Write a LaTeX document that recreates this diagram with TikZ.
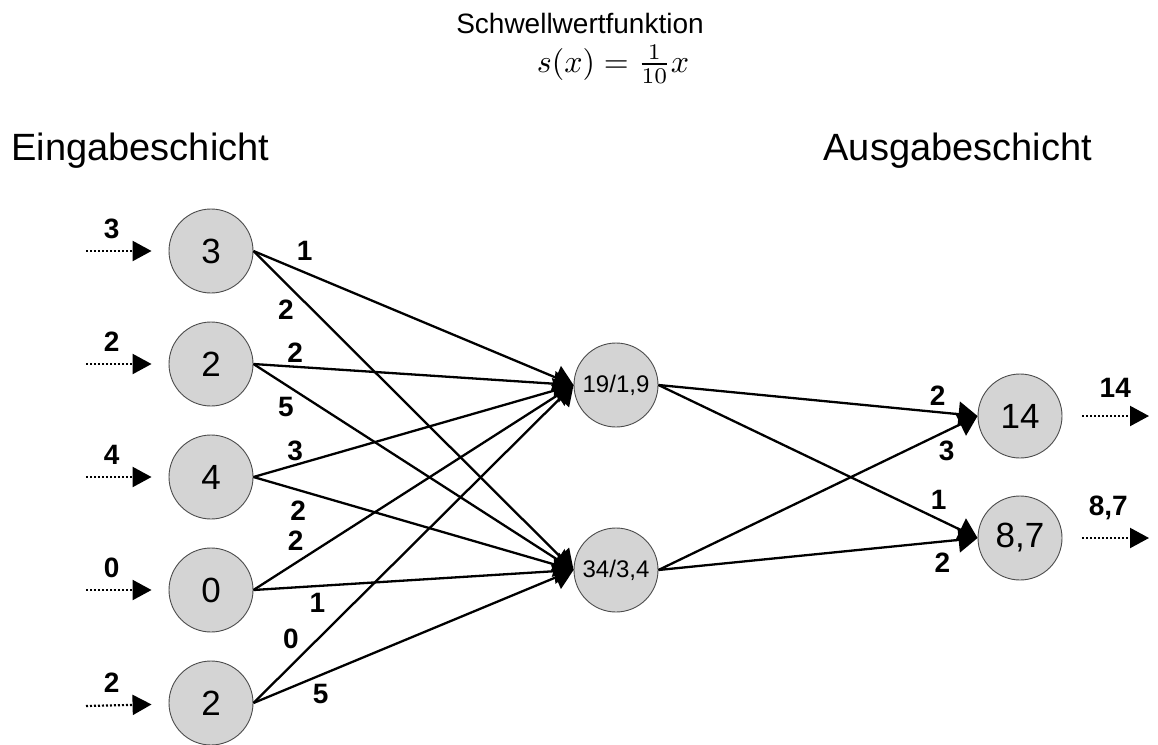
\documentclass[tikz,border=0pt]{standalone}
\usepackage{fontspec}
\setmainfont{Liberation Sans}
\usetikzlibrary{arrows.meta}

\begin{document}
\begin{tikzpicture}[x=1pt,y=-1pt,
  neuron/.style={circle,draw=black!70,fill=black!17,line width=0.9pt,minimum size=84pt,inner sep=0pt,font=\fontsize{35}{35}\selectfont},
  hidden/.style={neuron,font=\fontsize{24}{24}\selectfont},
  syn/.style={line width=2.3pt,-{Triangle[length=19pt,width=25pt]}},
  io/.style={line width=2.2pt,dash pattern=on 2pt off 2pt,-{Triangle[length=19pt,width=20pt]}},
  wt/.style={font=\fontsize{28}{28}\selectfont\bfseries},
  layer/.style={font=\fontsize{38}{38}\selectfont}]
  \useasboundingbox (0,0) rectangle (1158,744);

  \node[font=\fontsize{28}{28}\selectfont,anchor=base] (title) at (580,33) {Schwellwertfunktion};
  \node[anchor=base] (fn) at (613,72) {\scalebox{3.2}{$s(x)=\frac{1}{10}x$}};
  \node[layer,anchor=base west] (lin) at (8,160) {Eingabeschicht};
  \node[layer,anchor=base west] (lout) at (820,160) {Ausgabeschicht};

  \node[neuron] (in1) at (211,251) {3};
  \node[neuron] (in2) at (211,364) {2};
  \node[neuron] (in3) at (211,477) {4};
  \node[neuron] (in4) at (211,590) {0};
  \node[neuron] (in5) at (211,703) {2};
  \node[hidden] (h1) at (616,385) {19/1,9};
  \node[hidden] (h2) at (616,570) {34/3,4};
  \node[neuron] (o1) at (1020,416) {14};
  \node[neuron] (o2) at (1020,538) {8,7};

  \coordinate (s1) at (86,251);
  \coordinate (s2) at (86,364);
  \coordinate (s3) at (86,477);
  \coordinate (s4) at (86,590);
  \coordinate (s5) at (86,706);
  \coordinate (t1) at (1149,416);
  \coordinate (t2) at (1149,538);

  \draw[io,shorten >=17pt] (s1) -- node[wt,pos=.31,above=8pt] {3} (in1);
  \draw[io,shorten >=17pt] (s2) -- node[wt,pos=.31,above=8pt] {2} (in2);
  \draw[io,shorten >=17pt] (s3) -- node[wt,pos=.31,above=8pt] {4} (in3);
  \draw[io,shorten >=17pt] (s4) -- node[wt,pos=.31,above=8pt] {0} (in4);
  \draw[io,shorten >=17pt] (s5) -- node[wt,pos=.31,above=8pt] {2} (in5);
  \draw[io,shorten <=20pt] (o1) -- node[wt,pos=.61,above=14pt] {14} (t1);
  \draw[io,shorten <=20pt] (o2) -- node[wt,pos=.53,above=14pt] {8,7} (t2);

  \path[syn]
    (in1.east) edge node[wt,pos=.16,above=7pt] {1} (h1.west)
    (in1.east) edge node[wt,pos=.14,below left] {2} (h2.west)
    (in2.east) edge node[wt,pos=.13,above] {2} (h1.west)
    (in2.east) edge node[wt,pos=.14,below left] {5} (h2.west)
    (in3.east) edge node[wt,pos=.13,above] {3} (h1.west)
    (in3.east) edge node[wt,pos=.14,below=6pt] {2} (h2.west)
    (in4.east) edge node[wt,pos=.17,above left] {2} (h1.west)
    (in4.east) edge node[wt,pos=.2,below=3pt] {1} (h2.west)
    (in5.east) edge node[wt,pos=.155,above left] {0} (h1.west)
    (in5.east) edge node[wt,pos=.21,below=5pt] {5} (h2.west)
    (h1.east) edge node[wt,pos=.875,above=2pt] {2} (o1.west)
    (h2.east) edge node[wt,pos=.865,below right] {3} (o1.west)
    (h1.east) edge node[wt,pos=.84,above right] {1} (o2.west)
    (h2.east) edge node[wt,pos=.89,below=7pt] {2} (o2.west)
    ;
\end{tikzpicture}
\end{document}
